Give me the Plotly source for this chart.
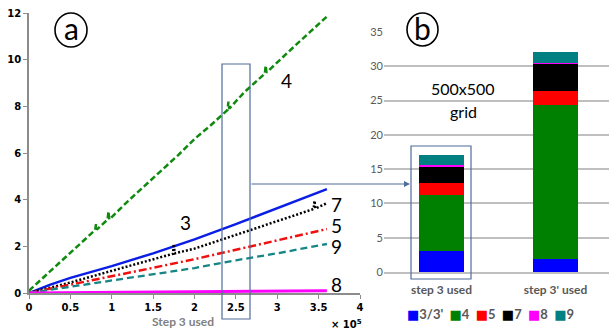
import plotly.graph_objects as go

W, H = 609, 331

# ---------------- data: panel (a) ----------------
x4 = [0, 0.2, 0.4, 0.6, 0.8, 0.81, 0.82, 0.95, 0.96, 0.97, 1.2, 1.4, 1.6, 1.8, 2.0, 2.2, 2.4, 2.41, 2.42, 2.6, 2.85, 2.86, 2.87, 3.0, 3.2, 3.4, 3.6]
y4 = [0.1, 0.75, 1.4, 2.05, 2.7, 2.95, 2.72, 3.15, 3.5, 3.15, 3.95, 4.6, 5.25, 5.9, 6.6, 7.2, 7.85, 8.2, 7.9, 8.6, 9.4, 9.75, 9.45, 9.9, 10.55, 11.2, 11.85]
x3 = [0, 0.25, 0.5, 1.0, 1.5, 2.0, 2.5, 3.0, 3.5, 3.6]
y3 = [0, 0.35, 0.65, 1.15, 1.7, 2.3, 2.95, 3.62, 4.3, 4.45]
x7 = [0, 0.5, 1.0, 1.5, 1.74, 1.75, 1.76, 2.0, 2.5, 3.0, 3.44, 3.45, 3.46, 3.6]
y7 = [0, 0.45, 0.95, 1.45, 1.68, 2.1, 1.7, 1.9, 2.5, 3.1, 3.6, 3.95, 3.62, 3.85]
x5 = [0, 0.5, 1.0, 1.5, 2.0, 2.5, 3.0, 3.6]
y5 = [0, 0.35, 0.72, 1.08, 1.45, 1.85, 2.25, 2.74]
x9 = [0, 0.5, 1.0, 1.5, 2.0, 2.5, 3.0, 3.6]
y9 = [0, 0.27, 0.53, 0.8, 1.07, 1.4, 1.7, 2.1]
x8 = [0, 0.5, 1.0, 1.5, 2.0, 2.5, 3.0, 3.6]
y8 = [0, 0.01, 0.02, 0.03, 0.04, 0.06, 0.08, 0.1]
x_scale = 1e5
x_ticks = [0, 0.5, 1, 1.5, 2, 2.5, 3, 3.5, 4]
x_tick_labels = ["0", "0.5", "1", "1.5", "2", "2.5", "3", "3.5", "4"]
y_ticks = [0, 2, 4, 6, 8, 10, 12]

# ---------------- data: panel (b) ----------------
bar_categories = ["step 3 used", "step 3' used"]
bar_names = ["3/3'", "4", "5", "7", "8", "9"]
bar_colors = ["#0000FF", "#008000", "#FF0000", "#000000", "#FF00FF", "#008080"]
bar_values = {
    "3/3'": [3.0, 1.95],
    "4": [8.2, 22.4],
    "5": [1.8, 2.1],
    "7": [2.45, 4.0],
    "8": [0.1, 0.1],
    "9": [1.5, 1.6],
}
bar_y_ticks = [0, 5, 10, 15, 20, 25, 30, 35]


def px(x):
    return x / W


def py(y):
    return 1 - y / H


fig = go.Figure()

lines = [
    (x4, y4, "#0F8A0F", "6px,3px", 2.5),
    (x3, y3, "#0A1EE6", "solid", 2.5),
    (x7, y7, "#000000", "2px,2px", 2.5),
    (x5, y5, "#F01010", "8px,3px,2px,3px", 2.5),
    (x9, y9, "#168585", "7px,4px", 2.3),
    (x8, y8, "#FF00FF", "solid", 3),
]
for xs, ys, col, dash, w in lines:
    fig.add_trace(go.Scatter(
        x=[v * x_scale for v in xs], y=ys, mode="lines",
        line=dict(color=col, dash=dash, width=w),
        xaxis="x", yaxis="y", showlegend=False, hoverinfo="skip"))

for name, col in zip(bar_names, bar_colors):
    fig.add_trace(go.Bar(
        x=[0, 1], y=bar_values[name], name=name, marker=dict(color=col, line=dict(width=0)),
        width=0.395, xaxis="x2", yaxis="y2", showlegend=False))

tick_font_a = dict(family="DejaVu Sans", size=10, color="#000000", weight="bold")
axis_grey = "#8C8C8C"

fig.update_layout(
    width=W, height=H,
    margin=dict(l=0, r=0, t=0, b=0, autoexpand=False),
    paper_bgcolor="white", plot_bgcolor="white",
    barmode="stack",
    showlegend=False,
    xaxis=dict(
        domain=[px(29), px(360)], range=[0, 4e5],
        tickvals=[v * x_scale for v in x_ticks], ticktext=x_tick_labels,
        ticks="outside", ticklen=4, tickcolor=axis_grey,
        showline=True, linecolor=axis_grey, linewidth=1.5,
        showgrid=False, zeroline=False, tickfont=tick_font_a,
        anchor="y", automargin=False,
    ),
    yaxis=dict(
        domain=[py(293), py(13)], range=[0, 12],
        tickvals=y_ticks, ticks="outside", ticklen=4, tickcolor=axis_grey,
        showline=True, linecolor=axis_grey, linewidth=1.5,
        showgrid=False, zeroline=False, tickfont=tick_font_a,
        anchor="x", automargin=False,
    ),
    xaxis2=dict(
        domain=[px(384), 1.0], range=[-0.504, 1.469],
        tickvals=[0, 1], ticktext=bar_categories,
        ticks="", showgrid=False, zeroline=False,
        showline=True, linecolor="#BFBFBF", linewidth=2,
        tickfont=dict(family="Lato, Open Sans", size=12, color="#595959", weight="bold"),
        ticklabelstandoff=6,
        anchor="y2", automargin=False,
    ),
    yaxis2=dict(
        domain=[py(272), py(32)], range=[0, 35],
        tickvals=bar_y_ticks, showgrid=True, gridcolor="#BFBFBF", gridwidth=1.5,
        zeroline=False, showline=False, ticks="",
        tickfont=dict(family="Lato, Open Sans", size=11, color="#595959"),
        anchor="x2", automargin=False,
    ),
)

box_col = "#4F6D9A"
shapes = [
    dict(type="rect", xref="paper", yref="paper", x0=px(222), x1=px(250), y0=py(319), y1=py(64),
         line=dict(color=box_col, width=1.2), fillcolor="rgba(0,0,0,0)"),
    dict(type="rect", xref="paper", yref="paper", x0=px(411), x1=px(471), y0=py(279), y1=py(146),
         line=dict(color=box_col, width=1.2), fillcolor="rgba(0,0,0,0)"),
    dict(type="circle", xref="paper", yref="paper", x0=px(55), x1=px(87), y0=py(47), y1=py(13),
         line=dict(color="black", width=1.6), fillcolor="white"),
    dict(type="circle", xref="paper", yref="paper", x0=px(407), x1=px(438), y0=py(46), y1=py(13),
         line=dict(color="black", width=1.6), fillcolor="white"),
]
fig.update_layout(shapes=shapes)

ann = []
big = dict(family="Lato, Open Sans", size=19, color="black")
line_labels = [("3", 185, 222), ("4", 286, 80), ("7", 336, 204), ("5", 336, 225), ("9", 336, 246), ("8", 336, 284)]
for t, x, y in line_labels:
    ann.append(dict(text=t, x=px(x), y=py(y), xref="paper", yref="paper", showarrow=False,
                    font=big, xanchor="center", yanchor="middle"))
ann.append(dict(text="a", x=px(71), y=py(28), xref="paper", yref="paper", showarrow=False,
                font=dict(family="Lato, Open Sans", size=30, color="black"), xanchor="center", yanchor="middle"))
ann.append(dict(text="b", x=px(422.5), y=py(28), xref="paper", yref="paper", showarrow=False,
                font=dict(family="Lato, Open Sans", size=30, color="black"), xanchor="center", yanchor="middle"))
ann.append(dict(text="500x500", x=px(463), y=py(88), xref="paper", yref="paper", showarrow=False,
                font=dict(family="Lato, Open Sans", size=16, color="black"), xanchor="center", yanchor="middle"))
ann.append(dict(text="grid", x=px(463), y=py(111), xref="paper", yref="paper", showarrow=False,
                font=dict(family="Lato, Open Sans", size=16, color="black"), xanchor="center", yanchor="middle"))
ann.append(dict(text="Step 3 used", x=px(183), y=py(321), xref="paper", yref="paper", showarrow=False,
                font=dict(family="Lato, Open Sans", size=12, color="#7F7F7F", weight="bold"),
                xanchor="center", yanchor="middle"))
ann.append(dict(text="× 10<sup>5</sup>", x=px(346), y=py(324), xref="paper", yref="paper", showarrow=False,
                font=dict(family="DejaVu Sans", size=10, color="black", weight="bold"),
                xanchor="center", yanchor="middle"))
# arrow from left box to bar box
ann.append(dict(text="", x=px(410), y=py(184), xref="paper", yref="paper", showarrow=True,
                ax=-160, ay=0, arrowhead=2, arrowsize=1, arrowwidth=1.2, arrowcolor=box_col))
# legend for bars
legend_parts = []
for name, col in zip(bar_names, bar_colors):
    legend_parts.append("<span style='color:%s'>■</span>%s" % (col, name))
ann.append(dict(text="  ".join(legend_parts), x=px(490), y=py(314), xref="paper", yref="paper",
                showarrow=False, font=dict(family="Lato, DejaVu Sans", size=13, color="#595959", weight="bold"),
                xanchor="center", yanchor="middle"))
fig.update_layout(annotations=ann)

fig.write_html("out.html", config={"displayModeBar": False},
               post_script="document.body.style.margin='0px';document.body.style.overflow='hidden';")
